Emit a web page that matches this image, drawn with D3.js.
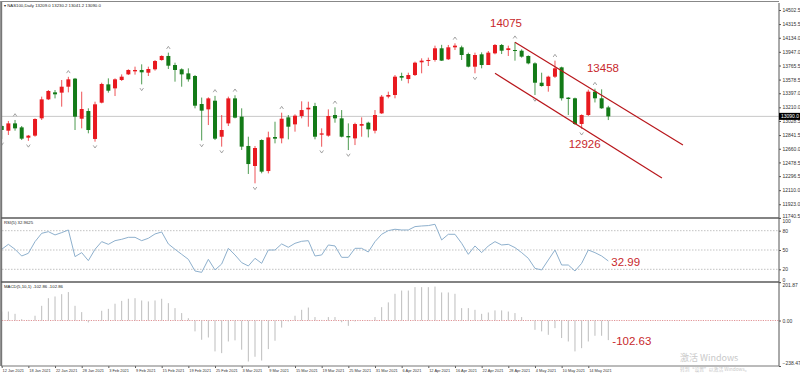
<!DOCTYPE html>
<html>
<head>
<meta charset="utf-8">
<script src="https://cdn.jsdelivr.net/npm/d3@7"></script>
<style>
  body { margin: 0; background: #fff; }
  svg { display: block; font-family: "Liberation Sans", Arial, sans-serif; }
</style>
</head>
<body>
<svg id="chart" width="800" height="375"></svg>
<script>
// NAS100 daily bars, 12 Jan 2021 - 19 May 2021
var dates = [
  "2021-01-12","2021-01-13","2021-01-14","2021-01-15","2021-01-18","2021-01-19","2021-01-20","2021-01-21","2021-01-22",
  "2021-01-25","2021-01-26","2021-01-27","2021-01-28","2021-01-29",
  "2021-02-01","2021-02-02","2021-02-03","2021-02-04","2021-02-05","2021-02-08","2021-02-09","2021-02-10","2021-02-11","2021-02-12",
  "2021-02-15","2021-02-16","2021-02-17","2021-02-18","2021-02-19","2021-02-22","2021-02-23","2021-02-24","2021-02-25","2021-02-26",
  "2021-03-01","2021-03-02","2021-03-03","2021-03-04","2021-03-05","2021-03-08","2021-03-09","2021-03-10","2021-03-11","2021-03-12",
  "2021-03-15","2021-03-16","2021-03-17","2021-03-18","2021-03-19","2021-03-22","2021-03-23","2021-03-24","2021-03-25","2021-03-26",
  "2021-03-29","2021-03-30","2021-03-31",
  "2021-04-01","2021-04-02","2021-04-05","2021-04-06","2021-04-07","2021-04-08","2021-04-09","2021-04-12","2021-04-13","2021-04-14",
  "2021-04-15","2021-04-16","2021-04-19","2021-04-20","2021-04-21","2021-04-22","2021-04-23","2021-04-26","2021-04-27","2021-04-28",
  "2021-04-29","2021-04-30",
  "2021-05-03","2021-05-04","2021-05-05","2021-05-06","2021-05-07","2021-05-10","2021-05-11","2021-05-12","2021-05-13","2021-05-14",
  "2021-05-17","2021-05-18","2021-05-19"
];

// [open, high, low, close]
var ohlc = [
  [12962,12975,12790,12909],[12900,13029,12843,12997],[12997,13042,12900,12931],[12944,12962,12776,12794],
  [12807,12843,12765,12834],[12834,13064,12820,13055],[13064,13352,13042,13316],[13316,13440,13307,13427],
  [13409,13440,13329,13383],[13405,13573,13219,13484],[13484,13615,13409,13582],[13591,13600,12909,13086],
  [13059,13418,12931,13188],[13161,13197,12865,12909],[12790,13285,12754,13250],[13272,13537,13263,13520],
  [13515,13595,13405,13431],[13462,13595,13360,13582],[13573,13648,13560,13617],[13648,13715,13639,13706],
  [13688,13750,13644,13706],[13706,13781,13515,13675],[13670,13750,13626,13719],[13715,13838,13697,13825],
  [13838,13900,13830,13892],[13892,13936,13719,13763],[13772,13803,13551,13706],[13715,13728,13484,13648],
  [13661,13728,13551,13582],[13626,13639,13197,13232],[13254,13340,12770,13166],[13183,13343,12975,13329],
  [13298,13362,12776,12794],[12820,13108,12688,12909],[12997,13352,12962,13329],[13329,13370,13064,13073],
  [13086,13197,12644,12688],[12697,12820,12325,12457],[12431,12697,12201,12670],[12776,12785,12334,12356],
  [12364,12887,12333,12811],[12816,13019,12732,12794],[12798,13139,12732,13059],[13077,13108,12785,12953],
  [12984,13117,12887,13099],[13095,13290,13064,13174],[13183,13285,12953,13205],[13227,13270,12785,12820],
  [12847,12931,12687,12864],[12834,13183,12820,13095],[13108,13210,13006,13064],[13064,13174,12811,12820],
  [12829,12997,12643,12811],[12798,13006,12709,12988],[12966,13077,12820,12988],[13006,13019,12811,12918],
  [12900,13174,12864,13108],[13130,13374,13122,13352],[13352,13418,13330,13374],[13374,13639,13330,13617],
  [13626,13670,13564,13604],[13586,13670,13529,13639],[13639,13817,13626,13803],[13808,13861,13662,13830],
  [13825,13870,13759,13839],[13839,14029,13817,13994],[13994,14040,13826,13830],[13848,14038,13839,14007],
  [14007,14060,13971,14029],[14007,14029,13839,13905],[13918,13936,13741,13750],[13750,13936,13662,13905],
  [13914,13940,13728,13772],[13772,13958,13772,13936],[13927,14051,13914,14038],[14038,14051,13918,13962],
  [13971,14029,13892,13994],[13971,14075,13830,13958],[13962,13980,13870,13883],[13892,13900,13781,13794],
  [13794,13808,13374,13537],[13537,13670,13485,13493],[13493,13630,13418,13617],[13617,13830,13600,13728],
  [13741,13750,13300,13330],[13339,13346,13108,13321],[13330,13339,12976,12989],[12989,13117,12926,13108],
  [13108,13445,13095,13418],[13418,13458,13275,13330],[13330,13449,13190,13197],[13209,13230.2,13041.2,13090]
];

var rsi = [
  51.1,58.8,51.1,40.7,44.9,63.0,75.9,78.5,73.4,77.0,81.1,39.7,45.9,33.5,51.1,63.0,58.8,64.5,66.6,69.7,
  69.7,64.5,68.2,74.9,78.0,59.4,51.1,43.3,35.5,17.4,15.3,35.5,19.0,28.3,52.6,42.3,30.4,25.2,37.1,29.3,
  50.0,50.0,59.4,54.2,60.4,63.5,64.5,40.7,42.3,57.8,56.3,38.6,38.6,52.6,52.6,46.9,63.0,74.4,80.1,82.2,
  81.1,81.1,86.3,87.3,87.9,89.9,65.6,74.4,74.4,60.4,43.3,56.3,45.9,56.3,63.0,57.8,58.8,53.7,45.9,37.1,
  21.5,19.0,34.5,50.0,26.7,26.7,17.4,29.3,50.0,45.9,40.7,32.96
];

var macd = [
  47,47,35,7,3,25,77,117,126,138,149,77,44,-10,2,51,61,88,103,114,
  117,105,100,105,114,91,65,39,12,-57,-101,-89,-162,-171,-110,-104,-153,-215,-190,-210,
  -150,-106,-37,-5,25,56,68,18,3,18,18,-9,-28,-5,0,2,18,70,95,140,
  157,157,175,175,175,178,147,147,140,65,65,56,35,42,53,53,47,39,18,2,
  -49,-57,-75,-40,-92,-110,-162,-145,-110,-80,-80,-102.86
];

var tickDates = ["2021-01-12","2021-01-18","2021-01-22","2021-01-28","2021-02-03","2021-02-09","2021-02-15","2021-02-19",
  "2021-02-25","2021-03-03","2021-03-09","2021-03-15","2021-03-19","2021-03-25","2021-03-31","2021-04-06","2021-04-12",
  "2021-04-16","2021-04-22","2021-04-28","2021-05-04","2021-05-10","2021-05-14"];
var priceTicks = [14502.5,14315.5,14134.0,13947.0,13765.5,13578.5,13397.0,13210.0,13028.5,12841.5,12660.0,12478.5,12296.5,12110.0,11923.0,11740.5];
var rsiTicks = [100, 80, 50, 20, 0];
var rsiLevels = [80, 50, 20];
var macdTicks = [201.87, 0, -238.47];

var fractalUp = [2, 10, 25, 32, 35, 42, 50, 68, 77, 83, 89];
var fractalDown = [0, 4, 14, 21, 30, 33, 38, 48, 52, 71, 80, 87];

// channel drawn by hand on the chart: [bar index, price]
var channelUpper = [[77, 14075], [102.2, 12710]];
var channelLower = [[74, 13662], [99.05, 12272]];

var lastPrice = 13090.0;
var title = "\u25BE NAS100,Daily 13209.0 13230.2 13041.2 13090.0";

var svg = d3.select("#chart");
var chartL = 2, chartR = 779;
var mainTop = 3, mainBot = 218, rsiBot = 282, macdBot = 366;
var bull = "#e8191f", bear = "#137a17", noteColor = "#c8282c";

var parse = d3.timeParse("%Y-%m-%d"), fmt = d3.timeFormat("%-d %b %Y");

var x = d3.scaleLinear().domain([0, dates.length - 1]).range([1.7, 608.3]);
var y = d3.scaleLinear().domain([11740.5, 14595.5]).range([mainBot, mainTop]);
var yR = d3.scaleLinear().domain([0, 100]).range([282.2, 217.8]);
var yM = d3.scaleLinear().domain([-238.47, 201.87]).range([macdBot, rsiBot]);

var defs = svg.append("defs");
defs.append("clipPath").attr("id", "clipMain").append("rect")
  .attr("x", chartL).attr("y", mainTop).attr("width", chartR - chartL).attr("height", mainBot - mainTop);

/* ---------- main panel ---------- */
var gMain = svg.append("g").attr("clip-path", "url(#clipMain)");

gMain.append("line")
  .attr("x1", chartL).attr("x2", chartR)
  .attr("y1", y(lastPrice)).attr("y2", y(lastPrice))
  .attr("stroke", "#c8c8c8").attr("stroke-width", 1);

var candle = gMain.selectAll("g.candle").data(ohlc).join("g").attr("class", "candle");
function col(d) { return d[3] >= d[0] ? bull : bear; }
candle.append("line")
  .attr("x1", function(d, i){ return x(i); }).attr("x2", function(d, i){ return x(i); })
  .attr("y1", function(d){ return y(d[1]); }).attr("y2", function(d){ return y(d[2]); })
  .attr("stroke", col).attr("stroke-width", 1).attr("stroke-opacity", 0.75);
candle.append("rect")
  .attr("x", function(d, i){ return x(i) - 2; }).attr("width", 4)
  .attr("y", function(d){ return y(Math.max(d[0], d[3])); })
  .attr("height", function(d){ return Math.max(1, Math.abs(y(d[0]) - y(d[3]))); })
  .attr("fill", col);

// fractals
gMain.selectAll("path.fup").data(fractalUp).join("path").attr("class", "fup")
  .attr("d", function(i){ var cx = x(i), cy = y(ohlc[i][1]) - 5;
    return "M" + (cx - 1.8) + "," + (cy + 1.3) + "L" + cx + "," + (cy - 1.3) + "L" + (cx + 1.8) + "," + (cy + 1.3); })
  .attr("fill", "none").attr("stroke", "#8c8c8c").attr("stroke-width", 0.8);
gMain.selectAll("path.fdn").data(fractalDown).join("path").attr("class", "fdn")
  .attr("d", function(i){ var cx = x(i), cy = y(ohlc[i][2]) + 5;
    return "M" + (cx - 1.8) + "," + (cy - 1.3) + "L" + cx + "," + (cy + 1.3) + "L" + (cx + 1.8) + "," + (cy - 1.3); })
  .attr("fill", "none").attr("stroke", "#8c8c8c").attr("stroke-width", 0.8);

// channel
var chLine = d3.line().x(function(d){ return x(d[0]); }).y(function(d){ return y(d[1]); });
gMain.selectAll("path.ch").data([channelUpper, channelLower]).join("path").attr("class", "ch")
  .attr("d", chLine).attr("fill", "none").attr("stroke", "#b8161b").attr("stroke-width", 1.2);

// notes on the price chart
var notes = [
  { text: "14075", cx: x(77) - 9, cy: y(ohlc[77][1]) - 19 },
  { text: "13458", cx: x(89) + 8, cy: y(ohlc[89][1]) - 21 },
  { text: "12926", cx: x(87) + 3, cy: y(ohlc[87][2]) + 15 }
];
svg.selectAll("text.note").data(notes).join("text").attr("class", "note")
  .attr("x", function(d){ return d.cx; }).attr("y", function(d){ return d.cy; })
  .attr("text-anchor", "middle").attr("dominant-baseline", "central")
  .attr("font-size", 11.5).attr("fill", noteColor).text(function(d){ return d.text; });

svg.append("text").attr("x", 4).attr("y", 7).attr("font-size", 4.3).attr("fill", "#222").text(title);

/* ---------- RSI panel ---------- */
svg.selectAll("line.rlev").data(rsiLevels).join("line").attr("class", "rlev")
  .attr("x1", chartL).attr("x2", chartR).attr("y1", yR).attr("y2", yR)
  .attr("stroke", "#b4b4b4").attr("stroke-width", 0.8).attr("stroke-dasharray", "1.5,1.5");
svg.append("path").datum(rsi)
  .attr("d", d3.line().x(function(d, i){ return x(i); }).y(function(d){ return yR(d); }))
  .attr("fill", "none").attr("stroke", "#8eb0cd").attr("stroke-width", 1);
svg.append("text").attr("x", 4).attr("y", 224).attr("font-size", 4.3).attr("fill", "#222").text("RSI(5) 32.9625");
svg.append("text").attr("x", x(rsi.length - 1) + 3).attr("y", yR(rsi[rsi.length - 1]) + 1)
  .attr("dominant-baseline", "central").attr("font-size", 11.5).attr("fill", noteColor).text("32.99");

/* ---------- MACD panel ---------- */
svg.append("line").attr("x1", chartL).attr("x2", chartR).attr("y1", yM(0)).attr("y2", yM(0))
  .attr("stroke", "#d9787c").attr("stroke-width", 0.8).attr("stroke-dasharray", "1.2,1.2");
svg.selectAll("line.mbar").data(macd).join("line").attr("class", "mbar")
  .attr("x1", function(d, i){ return x(i); }).attr("x2", function(d, i){ return x(i); })
  .attr("y1", yM(0)).attr("y2", function(d){ return yM(d); })
  .attr("stroke", "#bdbdbd").attr("stroke-width", 1);
svg.append("text").attr("x", 4).attr("y", 288).attr("font-size", 4.3).attr("fill", "#222").text("MACD(5,10,1) -102.86 -102.86");
svg.append("text").attr("x", x(macd.length - 1) + 4).attr("y", yM(macd[macd.length - 1]) + 1)
  .attr("dominant-baseline", "central").attr("font-size", 11.5).attr("fill", noteColor).text("-102.63");

/* ---------- axes & frame ---------- */
function styleAxis(g, size) {
  g.selectAll("text").attr("font-size", size).attr("fill", "#333").attr("font-family", "Liberation Sans, Arial, sans-serif");
  g.selectAll("line").attr("stroke", "#555");
  g.select(".domain").attr("stroke", "#555");
}
var aP = svg.append("g").attr("transform", "translate(" + chartR + ",0)")
  .call(d3.axisRight(y).tickValues(priceTicks).tickSize(2).tickPadding(1.5).tickFormat(d3.format(".1f")));
aP.select(".domain").attr("d", "M0," + mainTop + "V" + mainBot);
styleAxis(aP, 5);
aP.selectAll(".tick text").filter(function(d){ return d === 11740.5; }).attr("dy", "-0.1em");

var aR = svg.append("g").attr("transform", "translate(" + chartR + ",0)")
  .call(d3.axisRight(yR).tickValues(rsiTicks).tickSize(2).tickPadding(1.5));
aR.select(".domain").attr("d", "M0," + mainBot + "V" + rsiBot);
styleAxis(aR, 5);
aR.selectAll(".tick text").attr("dy", function(d){ return d === 100 ? "0.9em" : d === 0 ? "-0.2em" : "0.32em"; });

var aM = svg.append("g").attr("transform", "translate(" + chartR + ",0)")
  .call(d3.axisRight(yM).tickValues(macdTicks).tickSize(2).tickPadding(1.5).tickFormat(d3.format(".2f")));
aM.select(".domain").attr("d", "M0," + rsiBot + "V" + macdBot);
styleAxis(aM, 5);
aM.selectAll(".tick text").attr("dy", function(d){ return d > 100 ? "0.9em" : d < -100 ? "-0.3em" : "0.32em"; });

// price box
svg.append("rect").attr("x", chartR).attr("y", y(lastPrice) - 3.5).attr("width", 21).attr("height", 7).attr("fill", "#000");
svg.append("text").attr("x", chartR + 2).attr("y", y(lastPrice)).attr("dominant-baseline", "central")
  .attr("font-size", 5).attr("fill", "#fff").text(d3.format(".1f")(lastPrice));

var tickIdx = tickDates.map(function(d){ return dates.indexOf(d); });
var aX = svg.append("g").attr("transform", "translate(0," + macdBot + ")")
  .call(d3.axisBottom(x).tickValues(tickIdx).tickSize(2).tickPadding(1.5)
    .tickFormat(function(i){ return fmt(parse(dates[i])); }));
aX.select(".domain").remove();
styleAxis(aX, 3.9);
aX.selectAll(".tick text").attr("text-anchor", "start").attr("dx", "0.1em");

// frame lines
svg.append("line").attr("x1", 1.2).attr("x2", 1.2).attr("y1", 1).attr("y2", macdBot).attr("stroke", "#777").attr("stroke-width", 2);
svg.append("line").attr("x1", 1).attr("x2", chartR).attr("y1", 1.5).attr("y2", 1.5).attr("stroke", "#888").attr("stroke-width", 1);
[mainBot, rsiBot].forEach(function(v){
  svg.append("line").attr("x1", 1).attr("x2", chartR).attr("y1", v).attr("y2", v).attr("stroke", "#5a5a5a").attr("stroke-width", 1.6);
});
svg.append("line").attr("x1", 1).attr("x2", chartR).attr("y1", macdBot).attr("y2", macdBot).attr("stroke", "#777").attr("stroke-width", 1);

// system watermark seen on the screenshot
svg.append("text").attr("x", 680).attr("y", 361).attr("font-size", 9)
  .attr("font-family", "Noto Sans CJK SC, sans-serif").attr("fill", "#c9c9c9").text("激活 Windows");
svg.append("text").attr("x", 680).attr("y", 371).attr("font-size", 4.8)
  .attr("font-family", "Noto Sans CJK SC, sans-serif").attr("fill", "#c9c9c9").text("转到“设置”以激活 Windows。");
</script>
</body>
</html>
